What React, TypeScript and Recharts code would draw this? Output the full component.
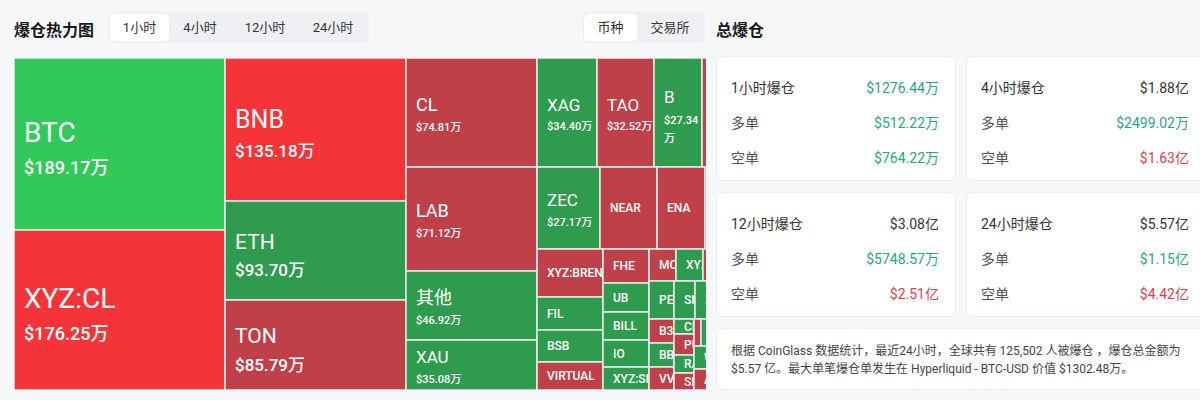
import { Treemap } from 'recharts'

/* ── data ─────────────────────────────────────────────────── */

// 1小时爆仓, 单位: 万美元 (合计 1276.44万, 右侧超出可视区域的部分被裁掉)
const coins = [
  'BTC', 'XYZ:CL', 'BNB', 'ETH', 'TON', 'CL', 'LAB', '其他', 'XAU', 'XAG', 'TAO', 'B', 'HYPE', 'ZEC',
  'NEAR', 'ENA', 'SOL', 'XYZ:BRENTOIL', 'FIL', 'BSB', 'VIRTUAL', 'FHE', 'UB', 'BILL', 'IO', 'XYZ:SILVER',
  'MON', 'XYZ:GOLD', 'XRP', 'DOGE',
  'PENGU', 'SNX', 'XPL', 'SUI', 'LINK',
  'B3', 'BB', 'VVV',
  'CHILLGUY', 'PUMP', 'RAVE', 'SKY',
  'AAVE', 'ARB', 'OP', 'WLD', 'APT', 'ADA', 'TRX',
]
const amounts = [
  189.17, 176.25, 135.18, 93.7, 85.79, 74.81, 71.12, 46.92, 35.08, 34.4, 32.52, 27.34, 27.3, 27.17,
  24.3, 20.5, 18.9, 16.6, 11.4, 11.0, 9.7, 8.2, 7.0, 6.7, 6.5, 5.5,
  4.5, 4.5, 4.0, 3.7,
  5.0, 4.2, 3.8, 3.6, 3.4,
  3.1, 3.1, 2.9,
  1.6, 2.2, 1.9, 1.9,
  1.0, 3.5, 3.3, 3.2, 3.0, 3.0, 3.0,
]
// up = 绿, down = 红
const sides = [
  'up', 'down', 'down', 'up', 'down', 'down', 'down', 'up', 'up', 'up', 'down', 'up', 'down', 'up',
  'down', 'down', 'down', 'down', 'up', 'up', 'down', 'down', 'up', 'up', 'up', 'up',
  'down', 'up', 'down', 'up',
  'up', 'up', 'up', 'down', 'up',
  'down', 'up', 'down',
  'up', 'down', 'up', 'down',
  'down', 'up', 'down', 'up', 'down', 'up', 'down',
]

const timeTabs = ['1小时', '4小时', '12小时', '24小时']
const groupTabs = ['币种', '交易所']

const cardTitles = ['1小时爆仓', '4小时爆仓', '12小时爆仓', '24小时爆仓']
const cardTotals = ['$1276.44万', '$1.88亿', '$3.08亿', '$5.57亿']
const cardLongs = ['$512.22万', '$2499.02万', '$5748.57万', '$1.15亿']
const cardShorts = ['$764.22万', '$1.63亿', '$2.51亿', '$4.42亿']

const treeData = coins.map((name, i) => ({ name, value: amounts[i], side: sides[i] }))
const sideOf: Record<string, string> = Object.fromEntries(coins.map((c, i) => [c, sides[i]]))

/* ── styles ───────────────────────────────────────────────── */

const FONT = "Roboto, 'Noto Sans CJK SC', sans-serif"
const GREEN = '#28a684'
const RED = '#e23d4f'

function tileColor(side: string, value: number) {
  if (side === 'up') return value >= 100 ? '#30c95a' : '#2e9b4e'
  return value >= 100 ? '#f53439' : '#c0404a'
}

/* ── treemap tile ─────────────────────────────────────────── */

function Tile(props: any) {
  const { x, y, width, height, depth, name, value } = props
  if (depth !== 1 || width <= 0 || height <= 0) return null
  const side = props.side ?? sideOf[name]
  const area = width * height
  const cy = height / 2

  let nameSize = 12
  let valueSize = 0
  if (area > 30000) { nameSize = 28; valueSize = 18 }
  else if (area > 20000) { nameSize = 25; valueSize = 17 }
  else if (area > 15000) { nameSize = 21; valueSize = 17 }
  else if (area > 8000) { nameSize = 18; valueSize = 11 }
  else if (area > 5000) { nameSize = 17; valueSize = 11 }

  const valueText = `$${Number(value).toFixed(2)}`
  // 窄格子里 "万" 换到下一行
  const wrap = valueSize > 0 && (valueText.length * 0.5 + 1) * valueSize + 10 > width

  return (
    <g>
      <rect x={x} y={y} width={width} height={height} fill={tileColor(side, value)} stroke="#eceef0" strokeWidth={1.5} />
      <svg x={x} y={y} width={Math.max(width - 1, 0)} height={height} overflow="hidden">
        {valueSize === 0 ? (
          <text x={10} y={cy + nameSize * 0.36} fill="#fff" fontSize={nameSize} fontFamily={FONT} fontWeight={500}>
            {name}
          </text>
        ) : wrap ? (
          <text fill="#fff" fontFamily={FONT}>
            <tspan x={10} y={cy - 10} fontSize={nameSize}>{name}</tspan>
            <tspan x={10} y={cy - 10 + nameSize * 0.5 + valueSize + 2} fontSize={valueSize} fontWeight={500}>{valueText}</tspan>
            <tspan x={10} y={cy - 10 + nameSize * 0.5 + valueSize * 2.6 + 2} fontSize={valueSize} fontWeight={500}>万</tspan>
          </text>
        ) : (
          <text fill="#fff" fontFamily={FONT}>
            <tspan x={10} y={cy - 2} fontSize={nameSize}>{name}</tspan>
            <tspan x={10} y={cy - 2 + nameSize * 0.5 + valueSize} fontSize={valueSize} fontWeight={500}>{valueText}万</tspan>
          </text>
        )}
      </svg>
    </g>
  )
}

/* ── side panel ───────────────────────────────────────────── */

function StatCard({ i, left, top }: { i: number; left: number; top: number }) {
  const row = (label: string, val: string, color: string, cy: number, labelColor: string) => (
    <div style={{ position: 'absolute', left: 14, right: 16, top: cy - 10, height: 20, display: 'flex', justifyContent: 'space-between', alignItems: 'center', fontSize: 14 }}>
      <span style={{ color: labelColor }}>{label}</span>
      <span style={{ color }}>{val}</span>
    </div>
  )
  return (
    <div style={{ position: 'absolute', left, top, width: 240, height: 125, background: '#fff', border: '1px solid #eceef1', borderRadius: 6, boxSizing: 'border-box' }}>
      {row(cardTitles[i], cardTotals[i], i === 0 ? GREEN : '#333', 30, '#333')}
      {row('多单', cardLongs[i], GREEN, 65, '#555')}
      {row('空单', cardShorts[i], i === 0 ? GREEN : RED, 100, '#555')}
    </div>
  )
}

function TabGroup({ tabs, left, widths }: { tabs: string[]; left: number; widths: number[] }) {
  return (
    <div style={{ position: 'absolute', left, top: 12, height: 31, padding: 2, boxSizing: 'border-box', background: '#eef0f3', borderRadius: 6, display: 'flex' }}>
      {tabs.map((t, i) => (
        <div key={t} style={{ width: widths[i], height: 27, lineHeight: '27px', textAlign: 'center', fontSize: 13, color: '#333', background: i === 0 ? '#fff' : 'transparent', borderRadius: 5 }}>
          {t}
        </div>
      ))}
    </div>
  )
}

export default function App() {
  return (
    <div style={{ position: 'fixed', left: 0, top: 0, width: 1200, height: 400, overflow: 'hidden', background: '#f6f7f8', fontFamily: FONT }}>
      <div style={{ position: 'absolute', left: 14, top: 17, fontSize: 16, fontWeight: 700, color: '#1a1a1a' }}>爆仓热力图</div>
      <TabGroup tabs={timeTabs} left={108} widths={[59, 62, 68, 68]} />
      <TabGroup tabs={groupTabs} left={582} widths={[53, 66]} />

      <div style={{ position: 'absolute', left: 14, top: 58, width: 692, height: 332, overflow: 'hidden' }}>
        <Treemap
          width={736}
          height={332}
          data={treeData}
          dataKey="value"
          nameKey="name"
          content={<Tile />}
          isAnimationActive={false}
        />
      </div>

      <div style={{ position: 'absolute', left: 716, top: 17, fontSize: 16, fontWeight: 700, color: '#1a1a1a' }}>总爆仓</div>
      <StatCard i={0} left={716} top={56} />
      <StatCard i={1} left={966} top={56} />
      <StatCard i={2} left={716} top={192} />
      <StatCard i={3} left={966} top={192} />
      <div style={{ position: 'absolute', left: 716, top: 328, width: 500, height: 62, background: '#fff', border: '1px solid #eceef1', borderRadius: 6, boxSizing: 'border-box', padding: '13px 14px', fontSize: 12, lineHeight: '18px', color: '#444', whiteSpace: 'nowrap' }}>
        根据 CoinGlass 数据统计，最近24小时，全球共有 125,502 人被爆仓 ，爆仓总金额为
        <br />
        $5.57 亿。最大单笔爆仓单发生在 Hyperliquid - BTC-USD 价值 $1302.48万。
      </div>
    </div>
  )
}
